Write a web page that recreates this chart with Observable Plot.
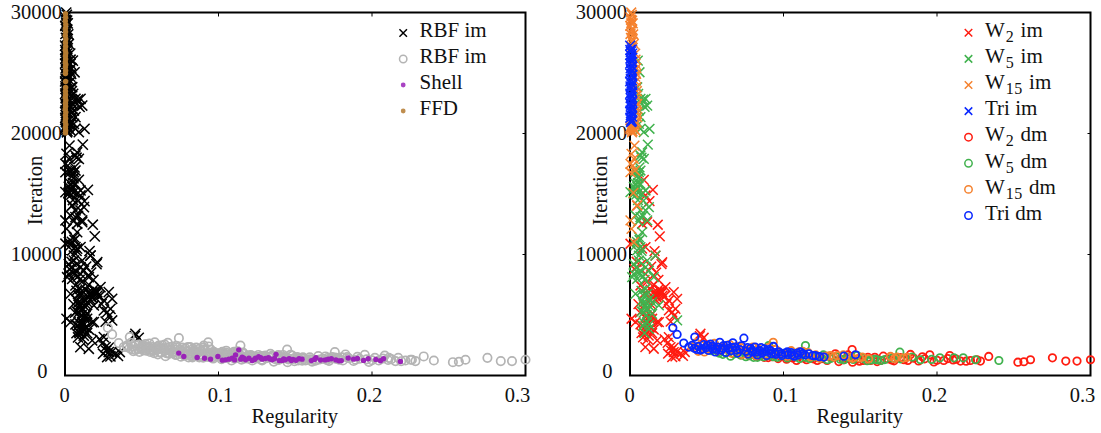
<!DOCTYPE html>
<html>
<head>
<meta charset="utf-8">
<script src="https://cdn.jsdelivr.net/npm/d3@7"></script>
<script src="https://cdn.jsdelivr.net/npm/@observablehq/plot@0.6"></script>
<style>
html,body{margin:0;padding:0;background:#fff}
#page{position:relative;width:1101px;height:433px;overflow:hidden;font-family:"Liberation Serif",serif;color:#111}
#page svg{position:absolute;top:0;background:transparent}
.lg{position:absolute;font-size:21px;line-height:26px;white-space:pre}
.lg sub{font-size:16px;line-height:0;vertical-align:-5px;letter-spacing:.5px;margin:0 1px}
</style>
</head>
<body>
<div id="page"></div>
<script>
const w2Im = [[.001,4690],[.0036,4410],[.0068,4220],[.009,3590],[.0105,3725],[.010,2350],[.0155,2210],[.0177,2900],[.0253,3175],[.0264,2350],[.0248,1800],[.0285,1940],[.0296,1580],[.0275,1525],[.0329,1800],[.0357,1940],[.0459,3450],[.048,3120],[.0253,5375],[.0275,5240],[.0253,6200],[.0296,5510],[.0307,6340],[.0285,6890],[.021,6890],[.0188,6750],[.0177,6890],[.0199,7025],[.0166,6610],[.0155,6890],[.0231,7300],[.0133,4960],[.0123,4825],[.0144,4690],[.0177,4410],[.0101,4825],[.0188,4410],[.021,9360],[.0166,9910],[.0068,7440],[.0101,8400],[.009,16170],[.0149,15345],[.0127,14410],[.0101,14880],[.0181,12460],[.0194,11500],[.016,10285],[.0101,10615],[.0079,10480],[.0047,14050],[.0079,12540],[.0112,12680],[.0003,10890],[.0144,3500],[.0122,3300],[.0085,3150],[.0195,6950],[.0212,6600],[.0178,6400],[.0092,5800],[.0118,5500],[.0135,5900],[.0043,9400],[.0029,8800],[.0185,7100],[.0172,6750],[.0205,6800],[.0225,6550],[.0163,6300],[.0148,6500],[.0115,4400],[.0128,4700],[.0108,4150],[.0135,3950],[.0095,3950],[.0075,3500],[.0115,3000],[.0125,3750],[.0155,3800],[.0245,2700],[.0268,2050],[.0305,1950],[.0345,1620],[.0285,2300],[.0225,3000],[.0455,3250],[.0265,4450],[.0288,4950],[.0238,5900],[.0075,9200],[.0115,7800],[.0135,7100],[.0205,9200],[.017,8500],[.0138,9000],[.0185,7900],[.0155,7500],[.0095,6800],[.0065,5200],[.0055,5900]];
const w5Im = [[.0116,19085],[.0079,18450],[.0068,18180],[.009,17900],[.0058,16800],[.0036,16800],[.0068,16940],[.0036,15840],[.0047,15565],[.0068,15840],[.0003,15150],[.0025,15015],[.0058,15150],[.0079,15015],[.0101,15290],[.0123,13915],[.0101,13640],[.0068,13640],[.0036,13225],[.0068,13090],[.0112,12815],[.0079,11850],[.0058,11440],[.0036,10750],[.0068,10615],[.0047,10340],[.0051,26025],[.0062,25060],[.0047,23825],[.0053,23275],[.0068,22860],[.0101,22860],[.0079,22450],[.0112,22310],[.0058,21900],[.0068,21350],[.0058,20800],[.0068,20390],[.0127,20390],[.009,20110],[.0058,9910],[.0166,9910],[.0025,8400],[.0014,8125],[.0068,8675],[.0101,8950],[.0123,8675],[.0155,8125],[.0047,7990],[.0036,6750],[.0101,7160],[.0112,6750],[.0079,6200],[.0112,5925],[.0144,6060],[.0188,5790],[.0133,5650],[.0144,5100],[.0112,4410],[.0123,3860],[.0307,4550],[.0058,9500],[.0112,9500],[.0095,3500],[.0088,5200],[.0102,5450],[.0055,16300],[.0041,14950],[.0052,14500],[.0085,22800],[.0095,22200],[.0075,18000],[.0062,17200],[.0048,16500],[.0025,15600],[.0036,15300],[.0052,15900],[.0088,14450],[.0085,13200],[.0055,12750],[.0062,11200],[.0045,11050],[.0075,10300],[.0025,9200],[.0042,8900],[.0085,8200],[.0062,8400],[.0095,7900],[.0075,7000],[.0088,6600],[.0085,6000],[.0095,5700],[.0075,5300],[.0125,6300],[.0108,5000],[.0085,4100],[.0095,4300],[.0125,4200]];
const w15Im = [[.0008,30000],[.0003,29600],[.0014,29325],[.0002,28900],[.0014,28600],[.0003,28225],[.0018,27800],[.0025,27400],[.001,27125],[.0036,25750],[.004,24925],[.004,23825],[.0047,22450],[.004,21900],[.0047,21350],[.001,20660],[.0003,20525],[.0025,20390],[.0036,20250],[.0002,20390],[.0029,19000],[.001,18315],[.0025,17900],[.0003,17490],[.0018,17350],[.0003,16800],[.0032,16940],[.0047,14050],[.0003,12815],[.001,12125],[.0025,11030],[.0034,26600],[.0032,25200],[.0037,24300],[.0042,23100],[.0033,22700],[.0043,20900],[.0016,20200],[.0031,20700],[.0008,29100],[.0021,28200],[.0022,15100],[.0012,29800],[.0006,29400],[.0018,29100],[.0011,28500],[.0006,27900],[.0016,27600],[.0036,26100],[.0041,25400],[.0034,24700],[.0045,23500],[.0038,22200],[.0044,21700],[.0038,21000],[.0009,20300],[.0021,20550],[.0013,20100]];
const triIm = [[.0001,27260],[.0012,26950],[.0002,26900],[.0005,26750],[.0014,26600],[.0002,26500],[.0009,26400],[.0015,26250],[.0003,26200],[.0007,26000],[.0013,25900],[.0001,25780],[.0011,25600],[.0015,25500],[.0004,25380],[.0013,25250],[.0008,25150],[.0002,24950],[.0015,24850],[.001,24760],[.0005,24500],[.0013,24400],[.0001,24300],[.0009,24120],[.0015,24000],[.0003,23900],[.0006,23700],[.0012,23500],[.0015,23400],[.0002,23300],[.0007,23120],[.0013,23000],[.0004,22920],[.001,22700],[.0015,22600],[.0001,22500],[.0006,22300],[.0014,22200],[.0011,22100],[.0003,21900],[.0015,21800],[.0008,21700],[.0005,21500],[.0014,21400],[.0002,21300],[.0009,21100],[.0013,21000],[.0006,20950]];
const w2Dm = [[.3,1300],[.2912,1190],[.2839,1190],[.2752,1460],[.2609,1300],[.2566,1135],[.2527,1100],[.2337,1575],[.2283,1190],[.2218,1240],[.2153,1190],[.2083,1650],[.2044,1240],[.1953,1710],[.1849,1430],[.1827,1740],[.1632,1240],[.1567,1240],[.1447,2150],[.1338,1795],[.1284,1240],[.226,1300],[.219,1180],[.2125,1350],[.207,1400],[.2,1260],[.198,1120],[.192,1380],[.188,1200],[.181,1250],[.176,1480],[.172,1210],[.168,1380],[.165,1600],[.161,1150],[.155,1500],[.152,1250],[.148,1350],[.145,1100],[.142,1700],[.139,1300],[.136,1150],[.131,1550],[.125,1400],[.122,1250],[.118,1500],[.115,1300],[.11,1600],[.106,1450],[.102,1350],[.098,1600],[.094,1700],[.09,1480],[.085,1650],[.08,1750],[.075,1900],[.07,1950],[.065,2050],[.06,2150],[.055,2300],[.05,2400],[.1595,1500],[.1705,1280],[.1785,1300],[.1905,1550],[.2105,1280],[.1495,1180],[.1415,1420],[.1265,1550],[.1195,1380],[.1125,1450],[.1085,1250],[.1035,1500],[.0965,1400],[.0925,1550],[.0875,1500],[.0825,1580],[.0775,1650],[.0725,1700],[.0675,1800],[.0625,1900],[.0575,2000],[.0525,2100]];
const w5Dm = [[.2403,1240],[.2251,1300],[.2171,1460],[.211,1460],[.2019,1460],[.1893,1300],[.1838,1520],[.1758,1930],[.1762,1380],[.161,1300],[.1143,2480],[.0904,2480],[.166,1320],[.157,1280],[.152,1420],[.148,1650],[.142,1500],[.137,1350],[.131,1420],[.126,1700],[.122,1550],[.117,1400],[.112,1750],[.108,1550],[.104,1800],[.1,1700],[.096,1500],[.092,1750],[.087,1550],[.083,1500],[.078,1650],[.072,1700],[.068,1800],[.062,1900],[.058,1850],[.053,2050],[.171,1450],[.1965,1330],[.1635,1240],[.1595,1340],[.1545,1220],[.1455,1330],[.1395,1300],[.1345,1550],[.1285,1300],[.1245,1450],[.1195,1600],[.1145,1500],[.1105,1400],[.1065,1750],[.1025,1450],[.098,1850],[.0935,1550],[.0895,1650],[.0855,1750],[.0805,1500],[.0755,1550],[.0705,1900],[.0655,1600],[.0605,1750],[.0565,2150]];
const w15Dm = [[.178,1440],[.174,1520],[.1697,1575],[.1513,1520],[.1328,1520],[.0933,2750],[.145,1420],[.139,1700],[.135,1640],[.128,1600],[.121,1700],[.116,1900],[.11,1950],[.105,2050],[.1,1800],[.095,2150],[.09,2300],[.085,1950],[.08,2350],[.075,2150],[.07,2400],[.065,2550],[.06,2350],[.055,2650],[.05,2200],[.046,2500],[.043,2700],[.082,1640],[.073,1750],[.066,1850],[.0405,2350],[.0445,2000],[.0485,1950],[.0525,2400],[.0575,2100],[.0625,2200],[.0675,2100],[.0725,2300],[.0775,1800],[.0835,2200],[.0885,1750],[.0965,1900],[.1025,1600],[.1075,1650],[.1125,2000],[.1175,1550],[.1235,1420],[.1305,1650],[.1435,1500],[.1495,1450],[.1555,1380],[.1725,1400],[.1805,1500]];
const triDm = [[.0279,3945],[.0307,3395],[.035,2680],[.0383,2350],[.0422,3175],[.042,2250],[.0445,2400],[.046,2100],[.048,2550],[.0495,2300],[.051,2080],[.0525,2600],[.054,2200],[.0555,1950],[.057,2350],[.0585,2750],[.0595,2100],[.061,2480],[.0625,1900],[.064,2250],[.0655,2050],[.067,2700],[.0685,2350],[.07,1850],[.0715,2150],[.0742,3085],[.0755,2000],[.077,1780],[.0785,2250],[.08,1950],[.0815,2350],[.083,1700],[.0845,2050],[.086,1850],[.0875,2200],[.089,1650],[.0905,2150],[.092,1800],[.0935,2400],[.095,1750],[.097,1950],[.099,1650],[.101,1850],[.103,1720],[.105,1900],[.107,1600],[.109,1850],[.111,1950],[.114,1700],[.1165,1795],[.119,1650],[.1208,1650],[.1235,1560],[.1263,1520],[.1393,1600],[.1469,1710],[.0405,2500],[.0435,2150],[.0475,2200],[.0505,2500],[.0535,2400],[.0565,2150],[.0605,2250],[.0635,2500],[.0665,2300],[.0695,2100],[.0725,2450],[.0765,2300],[.0795,2050],[.0825,1950],[.0855,2300],[.0885,2000],[.0915,2050],[.0945,1900],[.0985,1800],[.1025,1950],[.1055,1700],[.1095,1700],[.1125,1800]];
const shell = [[.0741,1850],[.0774,1570],[.0861,1485],[.0909,1430],[.0948,1350],[.0996,1570],[.1045,1295],[.1067,1350],[.1089,1430],[.1111,1700],[.1132,2120],[.1154,1515],[.1176,1295],[.1198,1430],[.1219,1240],[.1241,1430],[.1262,1550],[.1285,1350],[.1305,1400],[.1325,1470],[.135,1300],[.1375,1750],[.1395,1230],[.1415,1250],[.1435,1300],[.146,1380],[.1485,1330],[.1505,1260],[.1545,1350],[.1605,1230],[.1635,1470],[.1665,1280],[.1695,1290],[.1735,1380],[.1765,1290],[.18,1230],[.1845,1450],[.188,1350],[.1905,1400],[.1945,1250],[.1975,1390],[.2025,1330],[.2055,1220],[.2075,1390],[.2185,1160],[.1025,1270],[.1105,1290],[.1145,1350],[.1165,1430],[.1235,1330],[.1275,1470],[.1335,1360],[.1365,1400],[.1425,1360],[.1475,1230],[.1525,1380],[.1625,1330],[.1715,1340],[.1785,1210]];
const ffd = [[.0003,29900],[.0004,29600],[.0002,29300],[.0005,29000],[.0003,28700],[.0004,28400],[.0002,28100],[.0005,27800],[.0003,27500],[.0004,27200],[.0002,26900],[.0005,26650],[.0003,26400],[.0004,26150],[.0002,25900],[.0005,25700],[.0003,25500],[.0004,25200],[.0003,24950],[.0004,24300],[.0003,23500],[.0004,23200],[.0002,23000],[.0005,22750],[.0003,22500],[.0004,22250],[.0002,22000],[.0005,21750],[.0003,21500],[.0004,21250],[.0002,21000],[.0005,20750],[.0003,20500],[.0004,20250],[.0003,20050],[.0004,23800]];

const xTicks = [0, 0.1, 0.2, 0.3];
const yTicks = [0, 10000, 20000, 30000];
const colors = {black:"#000", gray:"#b4b4b4", purple:"#9a22b8", brown:"#b47a30",
  red:"#ff1c10", green:"#41b24e", orange:"#f5822f", blue:"#0a28ff"};
const legendLeft = [
  {text:"RBF im", kind:"x", color:"black"},
  {text:"RBF im", kind:"o", color:"gray"},
  {text:"Shell", kind:"d", color:"purple"},
  {text:"FFD", kind:"d", color:"brown"}];
const legendRight = [
  {base:"W", sub:"2", rest:" im", kind:"x", color:"red"},
  {base:"W", sub:"5", rest:" im", kind:"x", color:"green"},
  {base:"W", sub:"15", rest:" im", kind:"x", color:"orange"},
  {base:"Tri im", kind:"x", color:"blue"},
  {base:"W", sub:"2", rest:" dm", kind:"o", color:"red"},
  {base:"W", sub:"5", rest:" dm", kind:"o", color:"green"},
  {base:"W", sub:"15", rest:" dm", kind:"o", color:"orange"},
  {base:"Tri dm", kind:"o", color:"blue"}];

const rbfIm = [...w2Im, ...w5Im, ...w15Im, ...triIm];
const rbfDm = [...w2Dm, ...w5Dm, ...w15Dm, ...triDm];

const page = document.getElementById("page");
const X = d => d[0], Y = d => d[1];
const cross = (data, color, r=4.5) => Plot.dot(data, {x:X, y:Y, symbol:"times", r, stroke:colors[color], strokeWidth:1.5});
const ring = (data, color, r, sw) => Plot.dot(data, {x:X, y:Y, symbol:"circle", r, stroke:colors[color], strokeWidth:sw, fill:"none"});
const disc = (data, color) => Plot.dot(data, {x:X, y:Y, symbol:"circle", r:2.7, fill:colors[color], stroke:"none"});

function panel({left, width, ml, mr, series, legend, markerDx, textLeft, rowH, firstDy, firstBase}) {
  const common = {tickSize:0, fontSize:20.5};
  const legendMarks = legend.map((e,i) => {
    const opts = {frameAnchor:"top-left", dx:markerDx, dy:firstDy + i*rowH};
    if (e.kind==="x") return Plot.dot([e], {...opts, symbol:"times", r:3.5, stroke:colors[e.color], strokeWidth:1.5});
    if (e.kind==="o") return Plot.dot([e], {...opts, symbol:"circle", r:3.7, stroke:colors[e.color], strokeWidth:1.5, fill:"none"});
    return Plot.dot([e], {...opts, symbol:"circle", r:2.4, fill:colors[e.color], fillOpacity:.85, stroke:"none"});
  });
  const svg = Plot.plot({
    width, height:433, marginLeft:ml, marginRight:mr, marginTop:12, marginBottom:58,
    style:{fontFamily:"'Liberation Serif',serif", fontSize:"20.5px", color:"#111", background:"transparent", overflow:"visible"},
    x:{domain:[0,.3], axis:null}, y:{domain:[0,30000], axis:null},
    marks:[
      Plot.frame({stroke:"#000", strokeWidth:2}),
      Plot.axisX(xTicks.slice(1,3), {anchor:"bottom", tickSize:-3.5, tickFormat:()=>"", label:null, stroke:"#000", strokeWidth:1}),
      Plot.axisX(xTicks.slice(1,3), {anchor:"top", tickSize:-3.5, tickFormat:()=>"", label:null, stroke:"#000", strokeWidth:1}),
      Plot.axisY(yTicks.slice(1,3), {anchor:"left", tickSize:-3.5, tickFormat:()=>"", label:null, stroke:"#000", strokeWidth:1}),
      Plot.axisY(yTicks.slice(1,3), {anchor:"right", tickSize:-3.5, tickFormat:()=>"", label:null, stroke:"#000", strokeWidth:1}),
      Plot.axisX([xTicks[0]], {...common, anchor:"bottom", tickPadding:12, label:null, tickFormat:d=>String(d), dx:-.5}),
      Plot.axisX([xTicks[1]], {...common, anchor:"bottom", tickPadding:12, label:null, tickFormat:d=>String(d), dx:2}),
      Plot.axisX([xTicks[2]], {...common, anchor:"bottom", tickPadding:12, label:null, tickFormat:d=>String(d), dx:-2.5}),
      Plot.axisX([xTicks[3]], {...common, anchor:"bottom", tickPadding:12, label:null, tickFormat:d=>String(d), dx:-8}),
      Plot.axisY([yTicks[0]], {...common, anchor:"left", tickPadding:10, label:null, tickFormat:d=>String(d), dy:-4, dx:-7.5}),
      Plot.axisY(yTicks.slice(1), {...common, anchor:"left", tickPadding:3, label:null, tickFormat:d=>String(d)}),
      ...series,
      ...legendMarks
    ]
  });
  svg.style.left = left+"px";
  page.appendChild(svg);
  const g = d3.select(svg);
  const add = (txt, x, y, rot) => g.append("text").text(txt).attr("text-anchor","middle")
     .attr("font-size",20.5).attr("fill","#111")
     .attr("transform",`translate(${x},${y})`+(rot?" rotate(-90)":""));
  add("Regularity", ml+(width-ml-mr)/2, 423);
  add("Iteration", ml-22.5, 190.5, true);
  legend.forEach((e,i)=>{
    const d = document.createElement("div");
    d.className="lg"; d.style.left=textLeft+"px"; d.style.top=(firstBase+i*rowH)+"px";
    if (e.text) d.textContent=e.text;
    else { d.append(e.base); if(e.sub){const s=document.createElement("sub");s.textContent=e.sub;d.append(s);d.append(e.rest);} }
    page.appendChild(d);
  });
}

panel({left:0,width:550,ml:64.5,mr:25,markerDx:338.2,textLeft:419.5,rowH:26,firstDy:20.5,firstBase:17,legend:legendLeft,
  series:[cross(rbfIm,"black",4.7), ring(rbfDm,"gray",4.2,1.7), disc(shell,"purple"), disc(ffd,"brown")]});
panel({left:560,width:541,ml:69.5,mr:11,markerDx:338.5,textLeft:985,rowH:26.1,firstDy:20.3,firstBase:17,legend:legendRight,
  series:[cross(w2Im,"red"),cross(w5Im,"green"),cross(w15Im,"orange"),cross(triIm,"blue"),
    ring(w2Dm,"red",3.7,1.8),ring(w5Dm,"green",3.7,1.8),ring(w15Dm,"orange",3.7,1.8),ring(triDm,"blue",3.7,1.8)]});
</script>
</body>
</html>
